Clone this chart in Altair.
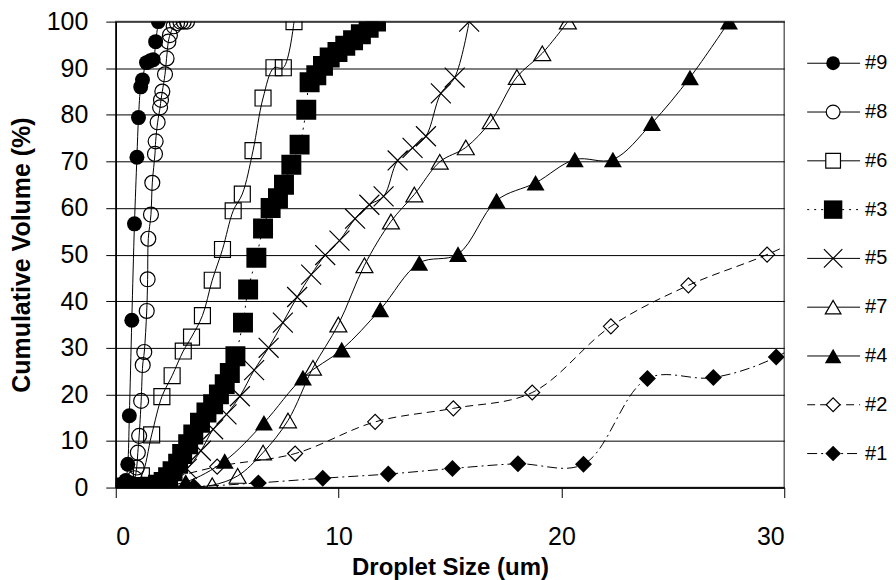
import altair as alt
import pandas as pd

FONT = "Liberation Sans"

series_names = ["#9", "#8", "#6", "#3", "#5", "#7", "#4", "#2", "#1"]

s9_x = [0.15, 0.25, 0.35, 0.45, 0.54, 0.61, 0.72, 0.84, 0.95, 1.02, 1.12, 1.2, 1.38, 1.55, 1.68, 1.79, 1.91]
s9_y = [0.0, 0.1, 0.5, 1.5, 5.0, 15.4, 35.9, 56.6, 70.9, 79.4, 86.0, 87.5, 91.2, 91.6, 91.8, 95.7, 100]

s8_x = [0.4, 0.55, 0.7, 0.85, 0.94, 0.99, 1.05, 1.14, 1.21, 1.28, 1.39, 1.43, 1.46, 1.58, 1.64, 1.76, 1.79,
        1.88, 1.99, 2.03, 2.09, 2.21, 2.28, 2.36, 2.43, 2.6, 2.75, 2.9, 3.05, 3.2]
s8_y = [0.0, 0.2, 0.8, 2.0, 4.3, 7.5, 11.1, 18.6, 26.3, 29.1, 37.9, 44.7, 53.4, 58.6, 65.4, 71.6, 74.3,
        78.4, 81.6, 83.2, 85.0, 88.7, 92.1, 95.7, 97.1, 99.0, 99.7, 100, 100, 100]

s6_x = [0.23, 0.69, 1.15, 1.61, 2.07, 2.53, 3.03, 3.4, 3.89, 4.33, 4.79, 5.27, 5.68, 6.16, 6.61, 7.1, 7.52, 8.0]
s6_y = [0.0, 0.3, 2.5, 11.3, 19.5, 24.0, 29.3, 32.3, 36.9, 44.5, 51.1, 59.4, 63.0, 72.3, 83.6, 90.1, 90.1, 100]

s3_x = [0.3, 0.6, 0.9, 1.15, 1.4, 1.65, 1.9, 2.15, 2.35, 2.55, 2.8, 2.98, 3.25, 3.48, 3.78, 4.07, 4.37,
        4.63, 4.89, 5.12, 5.37, 5.71, 5.94, 6.31, 6.61, 6.95, 7.28, 7.55, 7.88, 8.25, 8.55, 8.7, 9.0,
        9.3, 9.6, 9.95, 10.3, 10.65, 11.0, 11.35, 11.68]
s3_y = [0.0, 0.0, 0.0, 0.0, 0.1, 0.2, 0.6, 1.2, 2.2, 3.5, 5.1, 7.2, 9.3, 11.4, 13.9, 16.1, 17.9,
        20.0, 22.2, 24.6, 28.2, 35.4, 42.5, 49.3, 55.6, 60.0, 62.1, 65.0, 69.3, 73.6, 81.1, 87.0, 88.5,
        90.5, 92.3, 93.5, 94.8, 96.0, 97.3, 98.7, 100]

s5_x = [1.3, 1.93, 2.56, 3.19, 3.82, 4.37, 4.97, 5.57, 6.21, 6.86, 7.5, 8.14, 8.77, 9.4, 10.04, 10.74,
        11.38, 12.02, 12.65, 13.32, 13.92, 14.59, 15.21, 15.86]
s5_y = [0.0, 0.4, 1.5, 4.0, 7.9, 12.5, 15.7, 19.6, 25.2, 30.0, 35.4, 40.9, 45.7, 49.9, 53.0, 57.7,
        60.7, 62.5, 70.2, 72.9, 75.4, 84.6, 88.0, 100]

s7_x = [0.91, 2.05, 3.19, 4.33, 5.47, 6.61, 7.73, 8.85, 9.99, 11.16, 12.35, 13.4, 14.54, 15.71, 16.83,
        18.0, 19.14, 20.29]
s7_y = [0.0, 0.0, 0.1, 0.5, 2.5, 7.5, 14.4, 25.7, 35.0, 47.7, 57.1, 62.9, 69.9, 73.0, 78.6,
        88.1, 93.2, 100]

s4_x = [1.39, 3.14, 4.89, 6.65, 8.4, 10.14, 11.87, 13.62, 15.36, 17.09, 18.84, 20.6, 22.31, 24.06,
        25.77, 27.52]
s4_y = [0.0, 1.2, 5.7, 13.9, 23.6, 29.6, 38.2, 48.2, 50.1, 61.6, 65.4, 70.4, 70.4, 78.2, 88.0, 100]

s2_x = [1.05, 4.55, 8.05, 11.64, 15.15, 18.69, 22.22, 25.7, 29.23, 32.75]
s2_y = [0.2, 4.5, 7.3, 14.1, 17.0, 20.4, 34.6, 43.4, 50.0, 58.0]

s1_x = [0.6, 3.5, 6.4, 9.29, 12.23, 15.11, 18.05, 20.99, 23.86, 26.82, 29.64, 32.5]
s1_y = [0.0, 0.2, 1.0, 2.0, 2.9, 4.1, 5.1, 5.0, 23.4, 23.6, 28.0, 37.0]

xs = [s9_x, s8_x, s6_x, s3_x, s5_x, s7_x, s4_x, s2_x, s1_x]
ys = [s9_y, s8_y, s6_y, s3_y, s5_y, s7_y, s4_y, s2_y, s1_y]

# styles per series
dashes = [None, None, None, [2, 5], None, None, None, [8, 5], [10, 4, 2, 4]]
shapes = ["circle", "circle", "square", "square", "M-1,-1L1,1M-1,1L1,-1",
          "triangle-up", "triangle-up", "diamond", "diamond"]
filled = [True, False, False, True, False, False, True, False, True]
sizes = [225, 225, 256, 400, 400, 289, 324, 225, 289]

x_scale = alt.Scale(domain=[0, 30], nice=False, zero=False)
y_scale = alt.Scale(domain=[0, 100], nice=False)
x_axis = alt.Axis(values=[0, 10, 20, 30], grid=False, title="Droplet Size (um)",
                  domainColor="black", domainWidth=1.5, tickColor="black", tickSize=10,
                  labelFontSize=25, labelFont=FONT, labelColor="black", labelPadding=27,
                  titleFont=FONT, titleFontSize=24, titleFontWeight="bold", titleColor="black",
                  titlePadding=6)
y_axis = alt.Axis(values=list(range(0, 101, 10)), grid=True, gridColor="black", gridWidth=1,
                  title="Cumulative Volume (%)",
                  domainColor="black", domainWidth=1.5, tickColor="black", tickSize=10,
                  labelFontSize=25, labelFont=FONT, labelColor="black", labelPadding=18,
                  titleFont=FONT, titleFontSize=25, titleFontWeight="bold", titleColor="black",
                  titlePadding=12)

layers = []
for k, name in enumerate(series_names):
    df = pd.DataFrame({"x": xs[k], "y": ys[k], "i": list(range(len(xs[k])))})
    base = alt.Chart(df).encode(
        x=alt.X("x:Q", scale=x_scale, axis=x_axis),
        y=alt.Y("y:Q", scale=y_scale, axis=y_axis),
        order="i:Q",
    )
    line_kw = dict(interpolate="catmull-rom", color="black", strokeWidth=1, clip=True)
    if dashes[k] is not None:
        line_kw["strokeDash"] = dashes[k]
    layers.append(base.mark_line(**line_kw))
    if filled[k]:
        pt = base.mark_point(shape=shapes[k], filled=True, color="black", size=sizes[k],
                             opacity=1, clip=True)
    else:
        pt = base.mark_point(shape=shapes[k], filled=False, stroke="black", strokeWidth=1.2,
                             size=sizes[k], opacity=1, clip=True)
    layers.append(pt)

main = alt.layer(*layers).properties(
    width=670, height=467,
    view=alt.ViewBackground(stroke="#666666", strokeWidth=1.5),
)

# legend panel
leg_scale = alt.Scale(domain=[-0.853, 8.697], reverse=True, nice=False, zero=False)
leg_layers = []
for k, name in enumerate(series_names):
    ldf = pd.DataFrame({"series": [name], "idx": [k]})
    lb = alt.Chart(ldf).encode(y=alt.Y("idx:Q", scale=leg_scale, axis=None))
    rule_kw = dict(color="black", strokeWidth=1)
    if dashes[k] is not None:
        rule_kw["strokeDash"] = dashes[k]
    leg_layers.append(lb.mark_rule(**rule_kw).encode(x=alt.value(21), x2=alt.value(74)))
    if filled[k]:
        lp = lb.mark_point(shape=shapes[k], filled=True, color="black", size=sizes[k] * 0.85,
                           opacity=1)
    else:
        lp = lb.mark_point(shape=shapes[k], filled=True, fill="white", stroke="black",
                           strokeWidth=1.2, size=sizes[k] * 0.85, opacity=1)
    leg_layers.append(lp.encode(x=alt.value(47)))
    leg_layers.append(lb.mark_text(align="left", baseline="middle", font=FONT, fontSize=20,
                                   color="black").encode(x=alt.value(79), text="series:N"))

legend = alt.layer(*leg_layers).properties(
    width=100, height=467, view=alt.ViewBackground(stroke=None))

chart = alt.hconcat(main, legend, spacing=0).properties(
    padding={"left": 0, "top": 0, "right": 0, "bottom": 0},
    background="white",
)

chart.save("out.html", embed_options={"renderer": "svg", "actions": False})
